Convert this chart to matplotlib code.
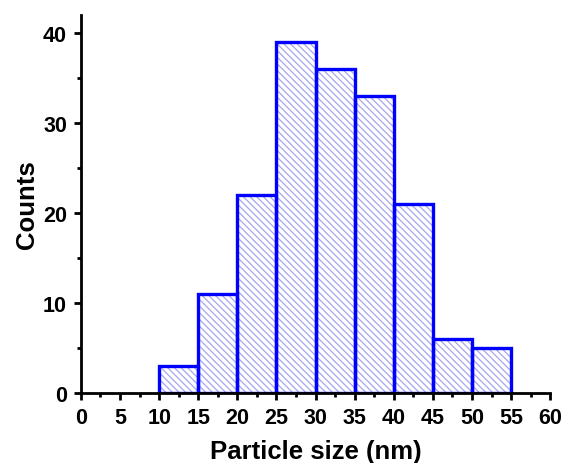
import matplotlib
matplotlib.use("Agg")
import matplotlib.pyplot as plt
from matplotlib.ticker import MultipleLocator

bin_edges = [10, 15, 20, 25, 30, 35, 40, 45, 50, 55]
counts = [3, 11, 22, 39, 36, 33, 21, 6, 5]
x_ticks = list(range(0, 61, 5))
y_ticks = [0, 10, 20, 30, 40]

plt.rcParams['font.family'] = ['Liberation Sans', 'DejaVu Sans']
plt.rcParams['font.weight'] = 'bold'
plt.rcParams['hatch.linewidth'] = 0.9

fig = plt.figure(figsize=(5.66, 4.64), dpi=100)
ax = fig.add_axes([0.143, 0.151, 0.829, 0.815])

lefts = bin_edges[:-1]
widths = [b - a for a, b in zip(bin_edges[:-1], bin_edges[1:])]
ax.bar(lefts, counts, width=widths, align='edge', facecolor='white',
       edgecolor='#a6a6ee', hatch='\\\\\\\\\\', linewidth=0)
ax.bar(lefts, counts, width=widths, align='edge', fill=False,
       edgecolor='#0000ff', linewidth=2.4)

ax.set_xlim(0, 60)
ax.set_ylim(0, 42)
ax.set_xticks(x_ticks)
ax.set_yticks(y_ticks)
ax.xaxis.set_minor_locator(MultipleLocator(2.5))
ax.yaxis.set_minor_locator(MultipleLocator(5))
ax.spines['top'].set_visible(False)
ax.spines['right'].set_visible(False)
for s in ['left', 'bottom']:
    ax.spines[s].set_linewidth(2)
ax.tick_params(which='major', direction='out', length=5, width=2, labelsize=15.5, pad=5)
ax.tick_params(which='minor', direction='out', length=3, width=2)
for lab in ax.get_xticklabels() + ax.get_yticklabels():
    lab.set_fontweight('bold')
ax.set_xlabel('Particle size (nm)', fontsize=18.5, fontweight='bold', labelpad=8)
ax.set_ylabel('Counts', fontsize=18.5, fontweight='bold', labelpad=3)

fig.savefig('out.png', dpi=100)
